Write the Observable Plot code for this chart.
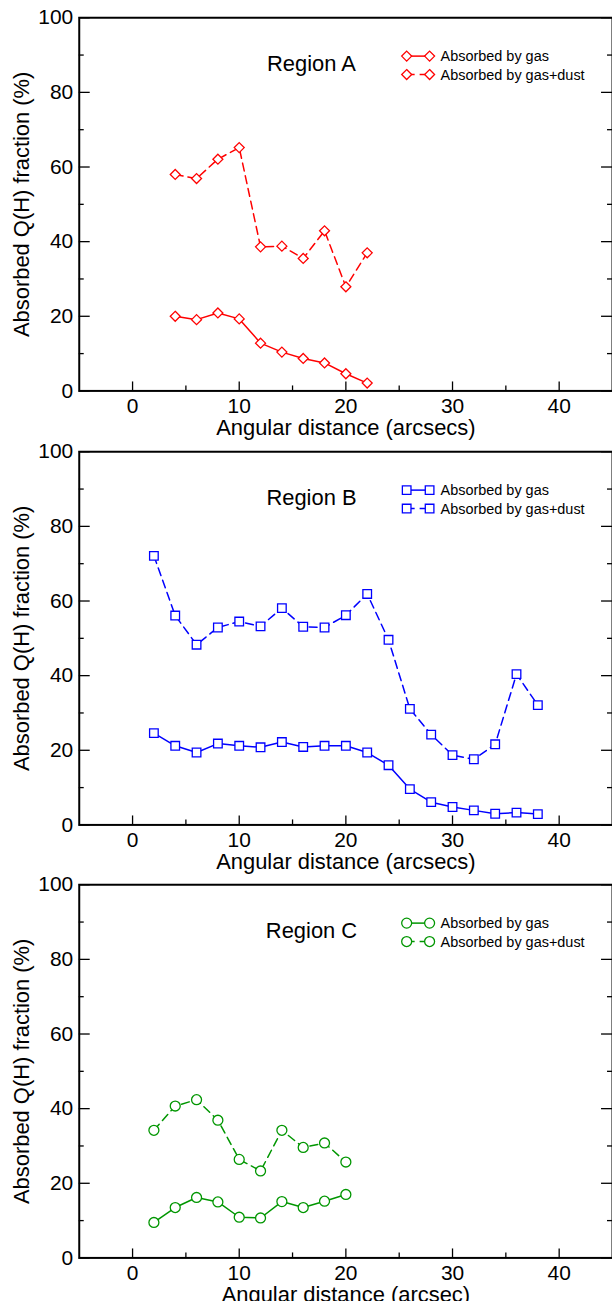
<!DOCTYPE html>
<html>
<head>
<meta charset="utf-8">
<script src="https://cdn.jsdelivr.net/npm/d3@7"></script>
<script src="https://cdn.jsdelivr.net/npm/@observablehq/plot@0.6"></script>
<style>
  html, body { margin: 0; padding: 0; background: #fff; overflow: hidden; }
  #charts { width: 612px; overflow: hidden; }
  #charts svg { display: block; }
</style>
</head>
<body>
<div id="charts"></div>
<script>
// Absorbed Q(H) fraction vs angular distance, three regions

// Region A
const distA = [4, 6, 8, 10, 12, 14, 16, 18, 20, 22];
const gasA  = [20.0, 19.1, 20.9, 19.3, 12.8, 10.4, 8.7, 7.5, 4.6, 2.1];
const dustA = [58.0, 56.9, 62.1, 65.2, 38.6, 38.8, 35.5, 42.9, 27.9, 37.0];

// Region B
const distB = [2, 4, 6, 8, 10, 12, 14, 16, 18, 20, 22, 24, 26, 28, 30, 32, 34, 36, 38];
const gasB  = [24.6, 21.2, 19.4, 21.8, 21.2, 20.8, 22.2, 20.9, 21.2, 21.2, 19.4, 16.0, 9.6, 6.1, 4.8, 3.9, 3.0, 3.3, 2.9];
const dustB = [72.1, 56.1, 48.3, 52.9, 54.5, 53.2, 58.1, 53.1, 52.9, 56.2, 61.9, 49.6, 31.1, 24.2, 18.7, 17.6, 21.6, 40.4, 32.1];

// Region C
const distC = [2, 4, 6, 8, 10, 12, 14, 16, 18, 20];
const gasC  = [9.5, 13.5, 16.2, 15.0, 10.9, 10.7, 15.1, 13.5, 15.2, 17.0];
const dustC = [34.2, 40.7, 42.4, 36.9, 26.4, 23.3, 34.2, 29.6, 30.8, 25.7];

// Axis ticks and labels
const xTicks = [0, 10, 20, 30, 40];
const xMinor = [5, 15, 25, 35];
const yTicks = [0, 20, 40, 60, 80, 100];
const yMinor = [10, 30, 50, 70, 90];
const legendLabels = ["Absorbed by gas", "Absorbed by gas+dust"];
const yTitle = "Absorbed Q(H) fraction (%)";

const FONT = '"Liberation Sans", Arial, Helvetica, sans-serif';
const W = 614, H = 435;
const M = {top: 17.3, bottom: 43.3, left: 79, right: 0};
const plotW = W - M.left - M.right;
const plotH = H - M.top - M.bottom;

// In-frame legend: two rows of marker-line-marker plus label
function legendMark(color, symbol, r) {
  return (index, scales, values, dims, context) => {
    const g = d3.select(context.document.createElementNS("http://www.w3.org/2000/svg", "g"));
    const x0 = dims.marginLeft, y0 = dims.marginTop;
    const path = d3.symbol(symbol, Math.PI * r * r)();
    legendLabels.forEach((label, i) => {
      const y = y0 + 39 + i * 18.5;
      g.append("line")
        .attr("x1", x0 + 329).attr("x2", x0 + 352)
        .attr("y1", y).attr("y2", y)
        .attr("stroke", color).attr("stroke-width", 1.5)
        .attr("stroke-dasharray", i ? "8,5" : null);
      [329, 352].forEach(dx => g.append("path")
        .attr("d", path)
        .attr("transform", `translate(${x0 + dx},${y})`)
        .attr("fill", "white").attr("stroke", color).attr("stroke-width", 1.3));
      g.append("text")
        .attr("x", x0 + 363).attr("y", y).attr("dy", "0.36em")
        .attr("text-anchor", "start")
        .attr("font-size", 14.5).attr("fill", "#000")
        .text(label);
    });
    return g.node();
  };
}

function panel({dist, gas, dust, color, symbol, r, region, xTitle}) {
  const gasRows = dist.map((d, i) => ({d, v: gas[i]}));
  const dustRows = dist.map((d, i) => ({d, v: dust[i]}));
  const id = d => d;
  return Plot.plot({
    width: W, height: H,
    marginTop: M.top, marginBottom: M.bottom, marginLeft: M.left, marginRight: M.right,
    x: {domain: [-5, 45]},
    y: {domain: [0, 100]},
    style: {fontFamily: FONT, fontSize: "21px", color: "#000", background: "#fff", overflow: "visible"},
    marks: [
      // inward ticks on left, right and bottom edges
      Plot.tickY(yTicks, {y: id, insetRight: plotW - 11, strokeWidth: 1.3}),
      Plot.tickY(yMinor, {y: id, insetRight: plotW - 5, strokeWidth: 1.3}),
      Plot.tickY(yTicks, {y: id, insetLeft: plotW - 11, strokeWidth: 1.3}),
      Plot.tickY(yMinor, {y: id, insetLeft: plotW - 5, strokeWidth: 1.3}),
      Plot.tickX(xTicks, {x: id, insetTop: plotH - 9, strokeWidth: 1.3}),
      Plot.tickX(xMinor, {x: id, insetTop: plotH - 5, strokeWidth: 1.3}),
      Plot.axisY({ticks: yTicks, tickSize: 0, tickPadding: 6, fontSize: 21, label: null}),
      Plot.axisX({ticks: xTicks, tickSize: 0, tickPadding: 7, fontSize: 21, label: null}),
      Plot.frame({stroke: "#000", strokeWidth: 2}),
      // data series
      Plot.line(gasRows, {x: "d", y: "v", stroke: color, strokeWidth: 1.5}),
      Plot.line(dustRows, {x: "d", y: "v", stroke: color, strokeWidth: 1.5, strokeDasharray: "8,5"}),
      Plot.dot(gasRows, {x: "d", y: "v", symbol, r, fill: "white", stroke: color, strokeWidth: 1.3}),
      Plot.dot(dustRows, {x: "d", y: "v", symbol, r, fill: "white", stroke: color, strokeWidth: 1.3}),
      // titles
      Plot.text([region], {text: id, frameAnchor: "top-left", dx: 233, dy: 53.4, lineAnchor: "bottom", textAnchor: "middle", fontSize: 22, fill: "#000"}),
      Plot.text([xTitle], {text: id, frameAnchor: "bottom", dy: 44.5, lineAnchor: "bottom", fontSize: 22, fill: "#000"}),
      Plot.text([yTitle], {text: id, frameAnchor: "left", dx: -50, rotate: -90, lineAnchor: "bottom", textAnchor: "middle", fontSize: 22, fill: "#000"}),
      legendMark(color, symbol, r)
    ]
  });
}

const host = document.getElementById("charts");
host.append(panel({dist: distA, gas: gasA, dust: dustA, color: "#ff0000", symbol: d3.symbolDiamond2, r: 4.5, region: "Region A", xTitle: "Angular distance (arcsecs)"}));
host.append(panel({dist: distB, gas: gasB, dust: dustB, color: "#0000ff", symbol: d3.symbolSquare2, r: 5.5, region: "Region B", xTitle: "Angular distance (arcsecs)"}));
host.append(panel({dist: distC, gas: gasC, dust: dustC, color: "#009600", symbol: d3.symbolCircle, r: 5, region: "Region C", xTitle: "Angular distance (arcsec)"}));
</script>
</body>
</html>
